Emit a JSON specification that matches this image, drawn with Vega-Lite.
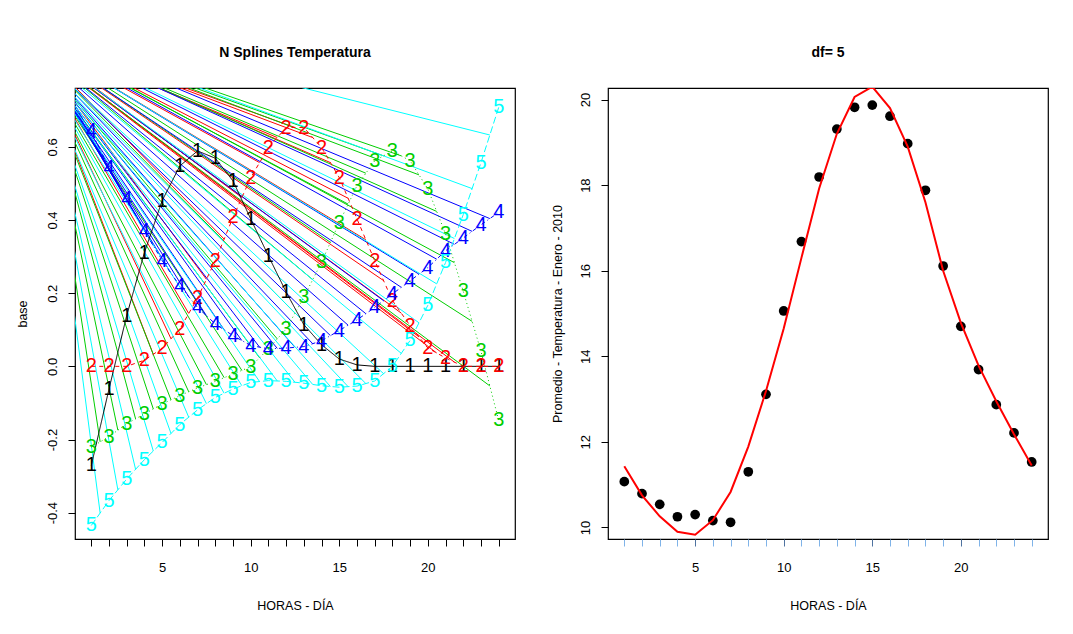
{
  "$schema": "https://vega.github.io/schema/vega-lite/v6.json",
  "background": "white",
  "padding": {"left": 15, "top": 45, "right": 0, "bottom": 0},
  "config": {
    "font": "Liberation Sans",
    "view": {"stroke": "black", "strokeWidth": 1.2},
    "axis": {"domain": false, "grid": false, "tickColor": "black", "tickSize": 7, "labelFont": "Liberation Sans", "labelFontSize": 13, "labelColor": "black", "titleFont": "Liberation Sans", "titleFontSize": 12.5, "titleFontWeight": "normal", "titleColor": "black"},
    "title": {"font": "Liberation Sans", "fontSize": 14, "fontWeight": "bold", "color": "black", "baseline": "bottom", "offset": 28}
  },
  "datasets": {
    "basis": [
      {"s":"1","h":1,"v":-0.271},{"s":"1","h":2,"v":-0.062},{"s":"1","h":3,"v":0.139},{"s":"1","h":4,"v":0.311},{"s":"1","h":5,"v":0.453},{"s":"1","h":6,"v":0.548},{"s":"1","h":7,"v":0.589},{"s":"1","h":8,"v":0.569},{"s":"1","h":9,"v":0.507},{"s":"1","h":10,"v":0.403},{"s":"1","h":11,"v":0.302},{"s":"1","h":12,"v":0.203},{"s":"1","h":13,"v":0.114},{"s":"1","h":14,"v":0.059},{"s":"1","h":15,"v":0.020},{"s":"1","h":16,"v":0.004},{"s":"1","h":17,"v":0},{"s":"1","h":18,"v":0},{"s":"1","h":19,"v":0},{"s":"1","h":20,"v":0},{"s":"1","h":21,"v":0},{"s":"1","h":22,"v":0},{"s":"1","h":23,"v":0},{"s":"1","h":24,"v":0},
      {"s":"2","h":1,"v":0},{"s":"2","h":2,"v":0},{"s":"2","h":3,"v":0},{"s":"2","h":4,"v":0.017},{"s":"2","h":5,"v":0.049},{"s":"2","h":6,"v":0.102},{"s":"2","h":7,"v":0.187},{"s":"2","h":8,"v":0.289},{"s":"2","h":9,"v":0.407},{"s":"2","h":10,"v":0.516},{"s":"2","h":11,"v":0.598},{"s":"2","h":12,"v":0.653},{"s":"2","h":13,"v":0.653},{"s":"2","h":14,"v":0.598},{"s":"2","h":15,"v":0.516},{"s":"2","h":16,"v":0.403},{"s":"2","h":17,"v":0.289},{"s":"2","h":18,"v":0.180},{"s":"2","h":19,"v":0.111},{"s":"2","h":20,"v":0.050},{"s":"2","h":21,"v":0.023},{"s":"2","h":22,"v":0},{"s":"2","h":23,"v":0},{"s":"2","h":24,"v":0},
      {"s":"3","h":1,"v":-0.221},{"s":"3","h":2,"v":-0.192},{"s":"3","h":3,"v":-0.157},{"s":"3","h":4,"v":-0.130},{"s":"3","h":5,"v":-0.103},{"s":"3","h":6,"v":-0.080},{"s":"3","h":7,"v":-0.059},{"s":"3","h":8,"v":-0.041},{"s":"3","h":9,"v":-0.021},{"s":"3","h":10,"v":-0.001},{"s":"3","h":11,"v":0.048},{"s":"3","h":12,"v":0.102},{"s":"3","h":13,"v":0.189},{"s":"3","h":14,"v":0.285},{"s":"3","h":15,"v":0.393},{"s":"3","h":16,"v":0.494},{"s":"3","h":17,"v":0.562},{"s":"3","h":18,"v":0.589},{"s":"3","h":19,"v":0.562},{"s":"3","h":20,"v":0.485},{"s":"3","h":21,"v":0.362},{"s":"3","h":22,"v":0.205},{"s":"3","h":23,"v":0.041},{"s":"3","h":24,"v":-0.148},
      {"s":"4","h":1,"v":0.644},{"s":"4","h":2,"v":0.542},{"s":"4","h":3,"v":0.457},{"s":"4","h":4,"v":0.371},{"s":"4","h":5,"v":0.289},{"s":"4","h":6,"v":0.220},{"s":"4","h":7,"v":0.161},{"s":"4","h":8,"v":0.116},{"s":"4","h":9,"v":0.084},{"s":"4","h":10,"v":0.057},{"s":"4","h":11,"v":0.048},{"s":"4","h":12,"v":0.050},{"s":"4","h":13,"v":0.054},{"s":"4","h":14,"v":0.070},{"s":"4","h":15,"v":0.098},{"s":"4","h":16,"v":0.127},{"s":"4","h":17,"v":0.161},{"s":"4","h":18,"v":0.198},{"s":"4","h":19,"v":0.234},{"s":"4","h":20,"v":0.270},{"s":"4","h":21,"v":0.316},{"s":"4","h":22,"v":0.351},{"s":"4","h":23,"v":0.387},{"s":"4","h":24,"v":0.421},
      {"s":"5","h":1,"v":-0.435},{"s":"5","h":2,"v":-0.367},{"s":"5","h":3,"v":-0.308},{"s":"5","h":4,"v":-0.255},{"s":"5","h":5,"v":-0.208},{"s":"5","h":6,"v":-0.159},{"s":"5","h":7,"v":-0.119},{"s":"5","h":8,"v":-0.085},{"s":"5","h":9,"v":-0.062},{"s":"5","h":10,"v":-0.044},{"s":"5","h":11,"v":-0.039},{"s":"5","h":12,"v":-0.041},{"s":"5","h":13,"v":-0.046},{"s":"5","h":14,"v":-0.053},{"s":"5","h":15,"v":-0.057},{"s":"5","h":16,"v":-0.054},{"s":"5","h":17,"v":-0.040},{"s":"5","h":18,"v":0.0},{"s":"5","h":19,"v":0.071},{"s":"5","h":20,"v":0.167},{"s":"5","h":21,"v":0.284},{"s":"5","h":22,"v":0.415},{"s":"5","h":23,"v":0.557},{"s":"5","h":24,"v":0.708}
    ],
    "rays": [
      {"s":"2","x":4.5,"y":0.033,"y0":0.786},{"s":"2","x":5.5,"y":0.0755,"y0":0.795},{"s":"2","x":6.5,"y":0.1445,"y0":0.808},{"s":"2","x":7.5,"y":0.238,"y0":0.824},{"s":"2","x":8.5,"y":0.348,"y0":0.842},{"s":"2","x":9.5,"y":0.4615,"y0":0.861},{"s":"2","x":10.5,"y":0.557,"y0":0.877},{"s":"2","x":11.5,"y":0.6255,"y0":0.890},{"s":"2","x":12.5,"y":0.653,"y0":0.898},{"s":"2","x":13.5,"y":0.6255,"y0":0.898},{"s":"2","x":14.5,"y":0.557,"y0":0.893},{"s":"2","x":15.5,"y":0.4595,"y0":0.884},{"s":"2","x":16.5,"y":0.346,"y0":0.873},{"s":"2","x":17.5,"y":0.2345,"y0":0.863},{"s":"2","x":18.5,"y":0.1455,"y0":0.855},{"s":"2","x":19.5,"y":0.0805,"y0":0.851},{"s":"2","x":20.5,"y":0.0365,"y0":0.849},{"s":"2","x":21.5,"y":0.0115,"y0":0.849},
      {"s":"3","x":1.5,"y":-0.2065,"y0":0.743},{"s":"3","x":2.5,"y":-0.1745,"y0":0.751},{"s":"3","x":3.5,"y":-0.1435,"y0":0.759},{"s":"3","x":4.5,"y":-0.1165,"y0":0.767},{"s":"3","x":5.5,"y":-0.0915,"y0":0.774},{"s":"3","x":6.5,"y":-0.0695,"y0":0.780},{"s":"3","x":7.5,"y":-0.05,"y0":0.787},{"s":"3","x":8.5,"y":-0.031,"y0":0.793},{"s":"3","x":9.5,"y":-0.011,"y0":0.800},{"s":"3","x":10.5,"y":0.0235,"y0":0.808},{"s":"3","x":11.5,"y":0.075,"y0":0.819},{"s":"3","x":12.5,"y":0.1455,"y0":0.832},{"s":"3","x":13.5,"y":0.237,"y0":0.848},{"s":"3","x":14.5,"y":0.339,"y0":0.865},{"s":"3","x":15.5,"y":0.4435,"y0":0.882},{"s":"3","x":16.5,"y":0.528,"y0":0.897},{"s":"3","x":17.5,"y":0.5755,"y0":0.907},{"s":"3","x":18.5,"y":0.5755,"y0":0.911},{"s":"3","x":19.5,"y":0.5235,"y0":0.908},{"s":"3","x":20.5,"y":0.4235,"y0":0.899},{"s":"3","x":21.5,"y":0.2835,"y0":0.885},{"s":"3","x":22.5,"y":0.123,"y0":0.868},{"s":"3","x":23.5,"y":-0.0535,"y0":0.849},
      {"s":"4","x":1.5,"y":0.593,"y0":0.847},{"s":"4","x":2.5,"y":0.4995,"y0":0.839},{"s":"4","x":3.5,"y":0.414,"y0":0.832},{"s":"4","x":4.5,"y":0.33,"y0":0.825},{"s":"4","x":5.5,"y":0.2545,"y0":0.819},{"s":"4","x":6.5,"y":0.1905,"y0":0.814},{"s":"4","x":7.5,"y":0.1385,"y0":0.811},{"s":"4","x":8.5,"y":0.1,"y0":0.810},{"s":"4","x":9.5,"y":0.0705,"y0":0.810},{"s":"4","x":10.5,"y":0.0525,"y0":0.812},{"s":"4","x":11.5,"y":0.049,"y0":0.815},{"s":"4","x":12.5,"y":0.052,"y0":0.820},{"s":"4","x":13.5,"y":0.062,"y0":0.825},{"s":"4","x":14.5,"y":0.084,"y0":0.832},{"s":"4","x":15.5,"y":0.1125,"y0":0.839},{"s":"4","x":16.5,"y":0.144,"y0":0.847},{"s":"4","x":17.5,"y":0.1795,"y0":0.856},{"s":"4","x":18.5,"y":0.216,"y0":0.864},{"s":"4","x":19.5,"y":0.252,"y0":0.873},{"s":"4","x":20.5,"y":0.293,"y0":0.882},{"s":"4","x":21.5,"y":0.3335,"y0":0.891},{"s":"4","x":22.5,"y":0.369,"y0":0.900},{"s":"4","x":23.5,"y":0.404,"y0":0.908},
      {"s":"5","x":1.5,"y":-0.401,"y0":0.718},{"s":"5","x":2.5,"y":-0.3375,"y0":0.730},{"s":"5","x":3.5,"y":-0.2815,"y0":0.741},{"s":"5","x":4.5,"y":-0.2315,"y0":0.751},{"s":"5","x":5.5,"y":-0.1835,"y0":0.762},{"s":"5","x":6.5,"y":-0.139,"y0":0.771},{"s":"5","x":7.5,"y":-0.102,"y0":0.780},{"s":"5","x":8.5,"y":-0.0735,"y0":0.788},{"s":"5","x":9.5,"y":-0.053,"y0":0.794},{"s":"5","x":10.5,"y":-0.0415,"y0":0.800},{"s":"5","x":11.5,"y":-0.04,"y0":0.804},{"s":"5","x":12.5,"y":-0.0435,"y0":0.807},{"s":"5","x":13.5,"y":-0.0495,"y0":0.810},{"s":"5","x":14.5,"y":-0.055,"y0":0.813},{"s":"5","x":15.5,"y":-0.0555,"y0":0.817},{"s":"5","x":16.5,"y":-0.047,"y0":0.822},{"s":"5","x":17.5,"y":-0.02,"y0":0.830},{"s":"5","x":18.5,"y":0.0355,"y0":0.841},{"s":"5","x":19.5,"y":0.119,"y0":0.856},{"s":"5","x":20.5,"y":0.2255,"y0":0.873},{"s":"5","x":21.5,"y":0.3495,"y0":0.893},{"s":"5","x":22.5,"y":0.486,"y0":0.915},{"s":"5","x":23.5,"y":0.6325,"y0":0.938}
    ],
    "temp": [
      {"h":1,"obs":11.07,"fit":11.43},{"h":2,"obs":10.79,"fit":10.75},{"h":3,"obs":10.54,"fit":10.26},{"h":4,"obs":10.25,"fit":9.90},{"h":5,"obs":10.30,"fit":9.83},{"h":6,"obs":10.16,"fit":10.17},{"h":7,"obs":10.12,"fit":10.83},{"h":8,"obs":11.30,"fit":11.89},{"h":9,"obs":13.11,"fit":13.19},{"h":10,"obs":15.06,"fit":14.65},{"h":11,"obs":16.68,"fit":16.30},{"h":12,"obs":18.19,"fit":17.92},{"h":13,"obs":19.31,"fit":19.20},{"h":14,"obs":19.82,"fit":20.06},{"h":15,"obs":19.87,"fit":20.30},{"h":16,"obs":19.61,"fit":19.80},{"h":17,"obs":18.97,"fit":18.90},{"h":18,"obs":17.88,"fit":17.60},{"h":19,"obs":16.11,"fit":16.00},{"h":20,"obs":14.70,"fit":14.78},{"h":21,"obs":13.69,"fit":13.78},{"h":22,"obs":12.87,"fit":12.95},{"h":23,"obs":12.21,"fit":12.18},{"h":24,"obs":11.53,"fit":11.45}
    ]
  },
  "bounds": "flush",
  "spacing": 93,
  "hconcat": [
    {
      "width": 440,
      "height": 451,
      "title": {"text": "N Splines Temperatura"},
      "layer": [
        {
          "data": {"name": "rays"},
          "mark": {"type": "rule", "clip": true, "strokeWidth": 1},
          "encoding": {
            "x": {"field": "x", "type": "quantitative", "scale": {"domain": [0.08, 24.92], "nice": false, "zero": false},
              "axis": {"values": [1,2,3,4,5,6,7,8,9,10,11,12,13,14,15,16,17,18,19,20,21,22,23,24], "tickCount": 30, "labelExpr": "datum.value % 5 == 0 ? datum.label : ''", "labelOverlap": false, "labelFlush": false, "labelPadding": 15, "title": "HORAS - DÍA", "titlePadding": 25}},
            "y": {"field": "y", "type": "quantitative", "scale": {"domain": [-0.472, 0.761], "nice": false, "zero": false},
              "axis": {"values": [-0.4,-0.2,0,0.2,0.4,0.6], "format": ".1f", "labelExpr": "replace(datum.label, '−', '-')", "labelAngle": -90, "labelAlign": "center", "labelBaseline": "middle", "labelPadding": 15.5, "title": "base", "titlePadding": 17}},
            "x2": {"datum": -1.5},
            "y2": {"field": "y0"},
            "color": {"field": "s", "type": "nominal", "scale": {"domain": ["1","2","3","4","5"], "range": ["#000000","#FF0000","#00CD00","#0000FF","#00FFFF"]}, "legend": null}
          }
        },
        {
          "data": {"name": "basis"},
          "mark": {"type": "line", "clip": true, "strokeWidth": 1},
          "encoding": {
            "x": {"field": "h", "type": "quantitative"},
            "y": {"field": "v", "type": "quantitative"},
            "color": {"field": "s", "type": "nominal", "legend": null},
            "strokeDash": {"field": "s", "type": "nominal", "scale": {"domain": ["1","2","3","4","5"], "range": [[1,0],[4,4],[1,3],[1,3,4,3],[7,3]]}, "legend": null}
          }
        },
        {
          "data": {"name": "basis"},
          "mark": {"type": "text", "fontSize": 20, "align": "center", "baseline": "middle", "font": "Liberation Sans"},
          "encoding": {
            "x": {"field": "h", "type": "quantitative"},
            "y": {"field": "v", "type": "quantitative"},
            "text": {"field": "s"},
            "color": {"field": "s", "type": "nominal", "legend": null}
          }
        }
      ]
    },
    {
      "width": 440,
      "height": 451,
      "title": {"text": "df= 5"},
      "data": {"name": "temp"},
      "layer": [
        {
          "mark": {"type": "point", "filled": true, "color": "black", "size": 95, "opacity": 1},
          "encoding": {
            "x": {"field": "h", "type": "quantitative", "scale": {"domain": [0.08, 24.92], "nice": false, "zero": false},
              "axis": {"values": [1,2,3,4,5,6,7,8,9,10,11,12,13,14,15,16,17,18,19,20,21,22,23,24], "tickCount": 30, "labelExpr": "datum.value % 5 == 0 ? datum.label : ''", "labelOverlap": false, "labelFlush": false, "labelPadding": 15, "title": "HORAS - DÍA", "titlePadding": 25,
                "tickColor": {"condition": {"test": "datum.value % 5 == 0", "value": "#4f73a0"}, "value": "#7fb3e8"}}},
            "y": {"field": "obs", "type": "quantitative", "scale": {"domain": [9.73, 20.27], "nice": false, "zero": false},
              "axis": {"values": [10,12,14,16,18,20], "format": "d", "labelAngle": -90, "labelAlign": "center", "labelBaseline": "middle", "labelPadding": 15.5, "title": "Promedio - Temperatura - Enero - 2010", "titlePadding": 15}}
          }
        },
        {
          "mark": {"type": "line", "color": "#FF0000", "strokeWidth": 2, "clip": true},
          "encoding": {
            "x": {"field": "h", "type": "quantitative"},
            "y": {"field": "fit", "type": "quantitative"}
          }
        }
      ]
    }
  ]
}
